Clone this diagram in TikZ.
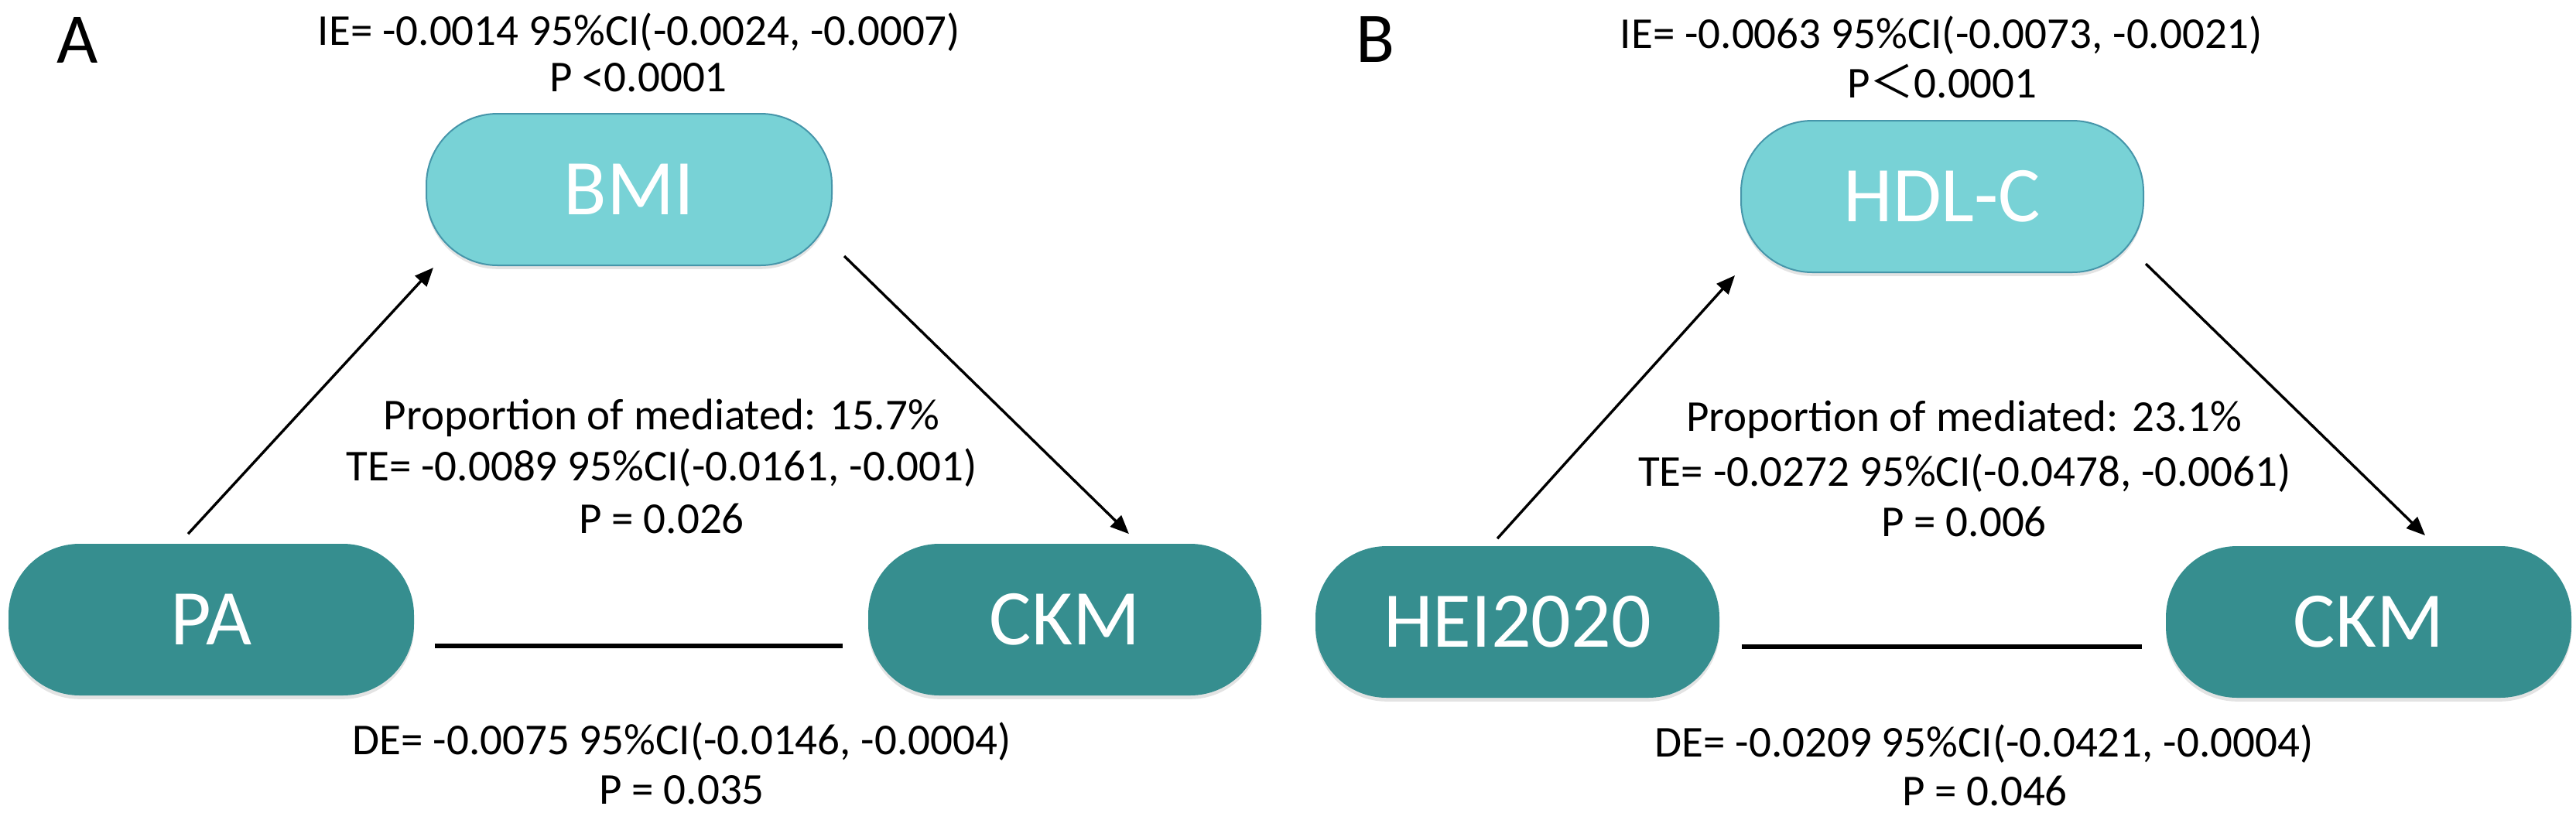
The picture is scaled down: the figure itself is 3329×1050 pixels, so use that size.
\documentclass[tikz,border=0pt]{standalone}
\usepackage{fontspec}
\setmainfont{Carlito}
\newfontfamily\cjk{Noto Sans CJK SC}
\usetikzlibrary{arrows.meta,shadows,calc}
\definecolor{lightnode}{RGB}{120,210,214}
\definecolor{lightborder}{RGB}{70,150,170}
\definecolor{darknode}{RGB}{54,142,143}
\begin{document}
\begin{tikzpicture}[x=0.25pt,y=-0.25pt,
  varbox/.style={rectangle, rounded corners=23pt, inner sep=0pt, minimum height=49pt,
    minimum width=131pt, text=white, font=\fontsize{25.5}{30}\selectfont,
    drop shadow={opacity=0.22,shadow xshift=0pt,shadow yshift=-1.2pt}},
  medbox/.style={varbox, fill=lightnode, draw=lightborder, line width=0.5pt},
  endbox/.style={varbox, fill=darknode},
  stat/.style={anchor=base, inner sep=0pt, font=\fontsize{14.25}{17}\selectfont},
  panel/.style={anchor=base, inner sep=0pt, font=\fontsize{23}{27}\selectfont},
  patharrow/.style={-{Triangle[length=6pt,width=5pt]}, line width=0.85pt},
  direct/.style={line width=1.4pt}]
\useasboundingbox (0,0) rectangle (3329,1050);

% ---------- Panel A ----------
\node[panel] (labA) at (100,81) {A};
\node[medbox] (BMI) at (813,245) {BMI};
\node[endbox] (PA) at (273,801) {PA};
\node[endbox, minimum width=127pt] (CKMa) at (1376,801) {CKM};

\draw[patharrow] ($(PA.north)+(-30,-12)$) -- ($(BMI.south west)+(10,2)$);
\draw[patharrow] ($(BMI.south east)+(15,-13)$) -- ($(CKMa.north)+(83,-12)$);
\draw[direct] ($(PA.east)+(26,34)$) -- ($(CKMa.west)+(-32,34)$);

\node[stat] (ieA) at (826,58) {IE= -0.0014 95\%CI(-0.0024, -0.0007)};
\node[stat] (pieA) at (825,118) {P <0.0001};
\node[stat] (propA) at (855,555) {Proportion of mediated: 15.7\%};
\node[stat] (teA) at (855,621) {TE= -0.0089 95\%CI(-0.0161, -0.001)};
\node[stat] (pteA) at (855,689) {P = 0.026};
\node[stat] (deA) at (881,975) {DE= -0.0075 95\%CI(-0.0146, -0.0004)};
\node[stat] (pdeA) at (881,1039) {P = 0.035};

% ---------- Panel B ----------
\node[panel] (labB) at (1777,80) {B};
\node[medbox, minimum width=130pt] (HDL) at (2510,254) {HDL-C};
\node[endbox, minimum width=130.5pt] (HEI) at (1961,804) {HEI2020};
\node[endbox] (CKMb) at (3061,804) {CKM};

\draw[patharrow] ($(HEI.north)+(-26,-9)$) -- ($(HDL.south west)+(-7,3)$);
\draw[patharrow] ($(HDL.south east)+(2,-12)$) -- ($(CKMb.north)+(73,-13)$);
\draw[direct] ($(HEI.east)+(28,32)$) -- ($(CKMb.west)+(-30,32)$);

\node[stat] (ieB) at (2509,62) {IE= -0.0063 95\%CI(-0.0073, -0.0021)};
\node[stat] (pieB) at (2510,126) {P{\cjk ＜}0.0001};
\node[stat] (propB) at (2538,557) {Proportion of mediated: 23.1\%};
\node[stat] (teB) at (2539,628) {TE= -0.0272 95\%CI(-0.0478, -0.0061)};
\node[stat] (pteB) at (2538,693) {P = 0.006};
\node[stat] (deB) at (2564,978) {DE= -0.0209 95\%CI(-0.0421, -0.0004)};
\node[stat] (pdeB) at (2565,1041) {P = 0.046};
\end{tikzpicture}
\end{document}
